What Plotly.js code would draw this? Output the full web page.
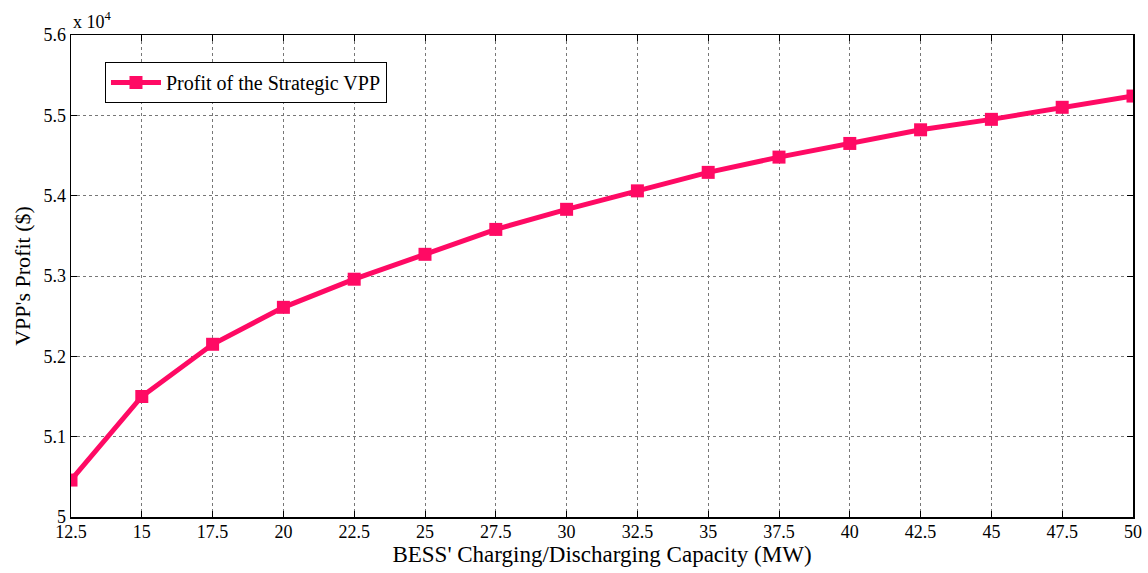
<!DOCTYPE html>
<html>
<head>
<meta charset="utf-8">
<script src="https://cdn.plot.ly/plotly-3.0.1.min.js"></script>
<style>html,body{margin:0;padding:0;background:#fff;}#chart{width:1148px;height:573px;}</style>
</head>
<body>
<div id="chart"></div>
<script>
const capacity = [12.5, 15, 17.5, 20, 22.5, 25, 27.5, 30, 32.5, 35, 37.5, 40, 42.5, 45, 47.5, 50];
const profit = [50460, 51500, 52150, 52610, 52960, 53270, 53580, 53830, 54060, 54290, 54480, 54650, 54820, 54950, 55100, 55240];
const seriesName = "Profit of the Strategic VPP";
const yTickVals = [50000, 51000, 52000, 53000, 54000, 55000, 56000];
const yTickText = ["5", "5.1", "5.2", "5.3", "5.4", "5.5", "5.6"];
const xTickVals = capacity;
const xTickText = ["12.5","15","17.5","20","22.5","25","27.5","30","32.5","35","37.5","40","42.5","45","47.5","50"];

const font = "Liberation Serif, Times New Roman, serif";
const trace = {
  x: capacity, y: profit, name: seriesName, type: "scatter", mode: "lines+markers",
  line: {color: "#ff0a64", width: 5},
  marker: {symbol: "square", size: 13, color: "#ff0a64"}
};
const axisCommon = {
  showline: true, linecolor: "#000", linewidth: 1.5, mirror: "ticks",
  ticks: "inside", ticklen: 6, tickcolor: "#000", tickwidth: 1,
  showgrid: true, gridcolor: "#777", griddash: "dot", gridwidth: 1,
  zeroline: false, tickfont: {family: font, size: 18, color: "#000"}
};
const layout = {
  width: 1148, height: 573,
  margin: {l: 71, r: 15, t: 35, b: 56},
  paper_bgcolor: "#fff", plot_bgcolor: "#fff",
  font: {family: font, color: "#000"},
  showlegend: true,
  legend: {x: 0.032, y: 0.944, xanchor: "left", yanchor: "top", bgcolor: "#fff",
    bordercolor: "#000", borderwidth: 1, itemwidth: 50,
    font: {family: font, size: 20, color: "#000"}},
  xaxis: Object.assign({}, axisCommon, {
    range: [12.5, 50], tickvals: xTickVals, ticktext: xTickText, ticklabelstandoff: -2,
    title: {text: "BESS' Charging/Discharging Capacity (MW)", font: {family: font, size: 23, color: "#000"}, standoff: 0}
  }),
  yaxis: Object.assign({}, axisCommon, {
    range: [50000, 56000], tickvals: yTickVals, ticktext: yTickText,
    title: {text: "VPP's Profit ($)", font: {family: font, size: 22, color: "#000"}, standoff: 6}
  }),
  annotations: [{
    xref: "paper", yref: "paper", x: 0, y: 1, xanchor: "left", yanchor: "bottom", yshift: 1,
    text: "x 10<sup>4</sup>", showarrow: false, font: {family: font, size: 18, color: "#000"}
  }]
};
Plotly.newPlot("chart", [trace], layout, {displayModeBar: false, staticPlot: true});
</script>
</body>
</html>
